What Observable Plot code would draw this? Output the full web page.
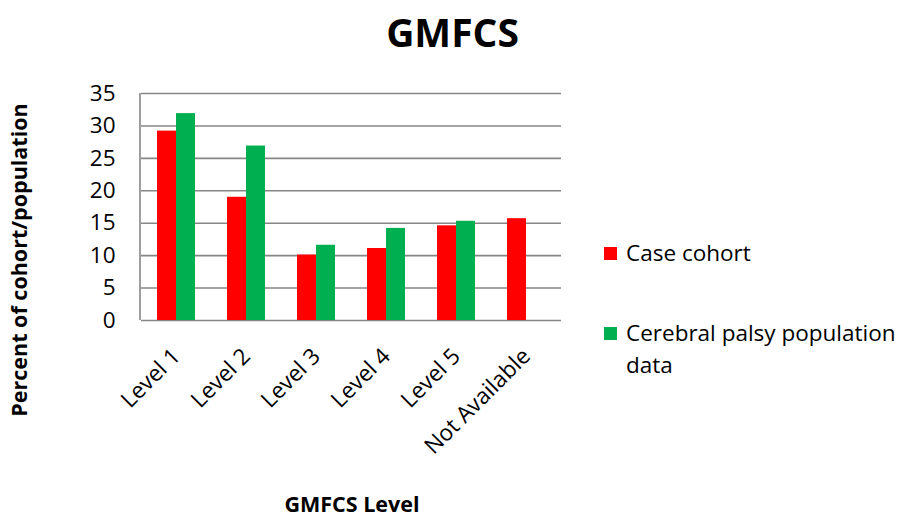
<!DOCTYPE html>
<html>
<head>
<meta charset="utf-8">
<script src="https://cdn.jsdelivr.net/npm/d3@7"></script>
<script src="https://cdn.jsdelivr.net/npm/@observablehq/plot@0.6"></script>
<style>
  html, body { margin: 0; padding: 0; background: #fff; }
  #chart { position: relative; width: 905px; height: 520px; font-family: "Open Sans", Lato, sans-serif; color: #000; }
  #chart svg { position: absolute; left: 0; top: 0; }
  .title { position: absolute; left: 0; width: 905px; top: 7px; text-align: center; font-size: 39px; font-weight: bold; line-height: 50px; }
  .legend { position: absolute; left: 604px; top: 237px; font-size: 22.5px; line-height: 32px; }
  .legend .item { position: relative; padding-left: 22px; width: 300px; }
  .legend .sw { position: absolute; left: 0; top: 10px; width: 13px; height: 13px; }
</style>
</head>
<body>
<div id="chart"></div>
<script>
// GMFCS level distribution: case cohort vs. cerebral palsy population data
const categories = ["Level 1", "Level 2", "Level 3", "Level 4", "Level 5", "Not Available"];
const caseCohort = [29.2, 19.0, 10.1, 11.1, 14.6, 15.7];
const cpPopulation = [31.9, 26.9, 11.6, 14.2, 15.3, null];
const seriesNames = ["Case cohort", "Cerebral palsy population data"];
const seriesColors = ["#FF0000", "#00B050"];
const yTicks = [0, 5, 10, 15, 20, 25, 30, 35];

const rows = [];
categories.forEach((c, i) => {
  rows.push({category: c, series: seriesNames[0], value: caseCohort[i]});
  if (cpPopulation[i] != null) rows.push({category: c, series: seriesNames[1], value: cpPopulation[i]});
});

const W = 905, H = 520;
const mLeft = 140, mRight = 343, mTop = 93, mBottom = 200;
const gridColor = "#868686";

const plot = Plot.plot({
  width: W,
  height: H,
  marginLeft: mLeft,
  marginRight: mRight,
  marginTop: mTop,
  marginBottom: mBottom,
  style: {fontFamily: "'Open Sans', Lato, sans-serif", fontSize: "22px", color: "#000", background: "transparent"},
  fx: {domain: categories, padding: 0, label: null},
  x: {domain: seriesNames, paddingInner: 0, paddingOuter: 0.76, axis: null},
  y: {domain: [0, 35], label: null},
  color: {domain: seriesNames, range: seriesColors},
  marks: [
    Plot.ruleY(yTicks, {stroke: gridColor, strokeWidth: 1.6}),
    Plot.barY(rows, {fx: "category", x: "series", y: "value", fill: "series", inset: 0}),
    Plot.axisY({ticks: yTicks, tickSize: 0, tickPadding: 26, fontSize: 22.5, label: null}),
    Plot.axisFx({anchor: "bottom", tickRotate: -45, tickSize: 0, tickPadding: 32, fontSize: 22.5, label: null})
  ]
});

const root = document.getElementById("chart");
root.appendChild(plot);

// Left axis line spanning the value range
const ys = plot.scale("y");
d3.select(plot).append("line")
  .attr("x1", mLeft).attr("x2", mLeft)
  .attr("y1", ys.apply(35)).attr("y2", ys.apply(0))
  .attr("stroke", gridColor).attr("stroke-width", 1.6);

// Axis titles
d3.select(plot).append("text")
  .attr("x", 352).attr("y", 512)
  .attr("text-anchor", "middle")
  .attr("font-weight", "bold").attr("font-size", 21.5)
  .text("GMFCS Level");
d3.select(plot).append("text")
  .attr("transform", `translate(27, 260) rotate(-90)`)
  .attr("text-anchor", "middle")
  .attr("font-weight", "bold").attr("font-size", 21.5)
  .text("Percent of cohort/population");

// Title
const title = document.createElement("div");
title.className = "title";
title.textContent = "GMFCS";
root.appendChild(title);

// Legend
const legend = document.createElement("div");
legend.className = "legend";
seriesNames.forEach((name, i) => {
  const item = document.createElement("div");
  item.className = "item";
  item.style.marginBottom = i === 0 ? "48px" : "0";
  const sw = document.createElement("span");
  sw.className = "sw";
  sw.style.background = seriesColors[i];
  item.appendChild(sw);
  item.appendChild(document.createTextNode(name));
  legend.appendChild(item);
});
root.appendChild(legend);
</script>
</body>
</html>
